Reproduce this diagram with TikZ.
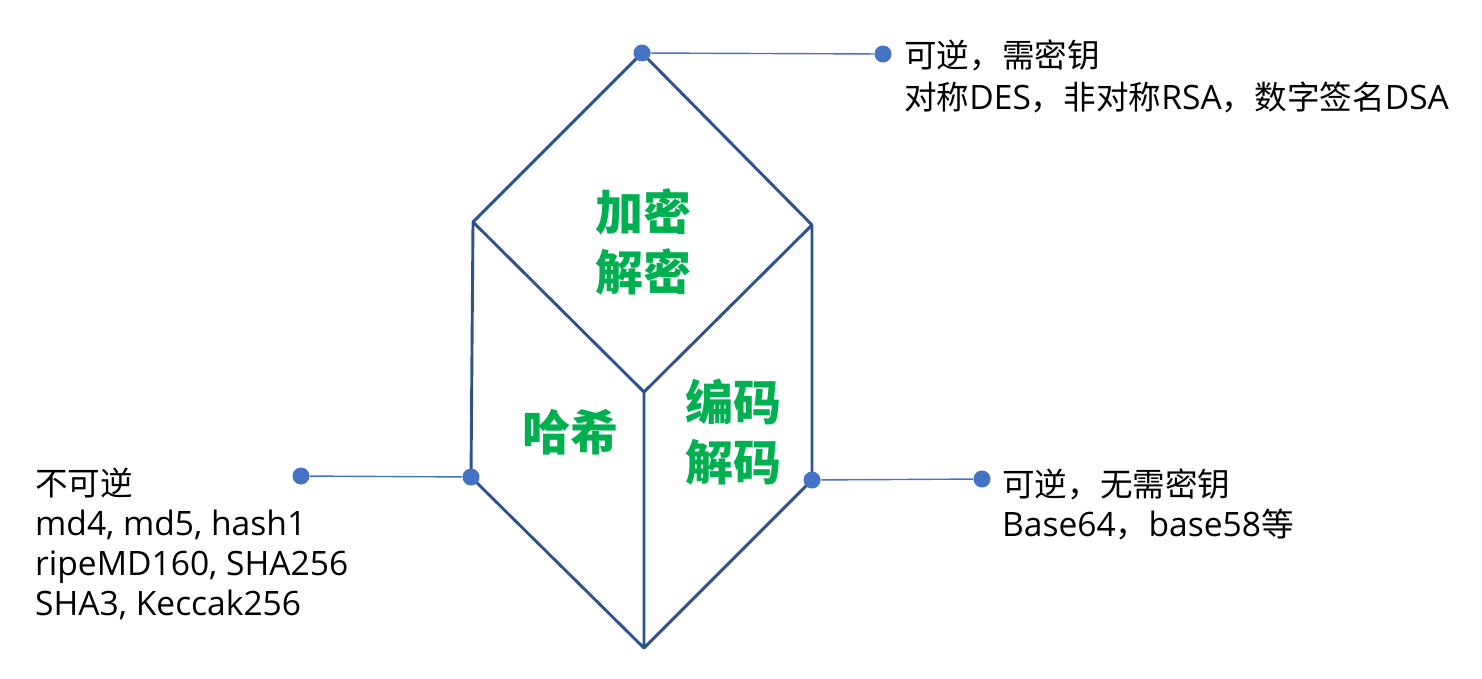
\documentclass[tikz,border=0pt]{standalone}
\usepackage{fontspec}
\setmainfont{Open Sans}[Scale=1.03]
\newfontfamily\cjk{Noto Sans CJK SC}
\newcommand{\zh}[1]{{\cjk #1}}
\definecolor{edgeblue}{RGB}{47,82,143}
\definecolor{dotblue}{RGB}{68,114,196}
\definecolor{facegreen}{RGB}{0,176,80}

\begin{document}
\begin{tikzpicture}[x=1pt,y=-1pt,
    dot/.style={circle,fill=dotblue,inner sep=0pt,minimum size=17pt},
    face/.style={text=facegreen,font=\cjk\fontsize{48}{60}\selectfont\bfseries,align=center},
    note/.style={font=\fontsize{32.6}{40}\selectfont,align=left,inner sep=0pt,anchor=north west}]
        \useasboundingbox (0,0) rectangle (1482,678);

        % corners of the cube
        \coordinate (top) at (642,53);
        \coordinate (upleft) at (473,222);
        \coordinate (upright) at (812,225);
        \coordinate (mid) at (644,392);
        \coordinate (lowleft) at (471,477);
        \coordinate (lowright) at (812,480);
        \coordinate (bottom) at (644,648);

        \draw[edgeblue, line width=2.9pt, line join=round]
            (top) -- (upleft) -- (mid) -- (upright) -- cycle
            (mid) -- (bottom)
            (upleft) -- (lowleft) -- (bottom) -- (lowright) -- (upright);

        \node[face] (crypt) at (643,242) {加密\\解密};
        \node[face] (hash) at (570,432) {哈希};
        \node[face] (codec) at (733,432) {编码\\解码};

        % dots and leader lines
        \node[dot] (dtop) at (top) {};
        \node[dot] (dleft) at (lowleft) {};
        \node[dot] (dright) at (lowright) {};
        \node[dot] (ptop) at (883,54) {};
        \node[dot] (pleft) at (301,476) {};
        \node[dot] (pright) at (982,479) {};
        \draw[dotblue, line width=1.4pt] (dtop) -- (ptop);
        \draw[dotblue, line width=1.4pt] (dleft) -- (pleft);
        \draw[dotblue, line width=1.4pt] (dright) -- (pright);

        \node[note, font=\fontsize{32.6}{42}\selectfont] (ttop) at (904,40)
            {\zh{可逆，需密钥}\\\zh{对称}DES\zh{，非对称}RSA\zh{，数字签名}DSA};
        \node[note] (tleft) at (35,468)
            {\zh{不可逆}\\md4, md5, hash1\\ripeMD160, SHA256\\SHA3, Keccak256};
        \node[note] (tright) at (1002,469)
            {\zh{可逆，无需密钥}\\Base64\zh{，}base58\zh{等}};
    \end{tikzpicture}
\end{document}
